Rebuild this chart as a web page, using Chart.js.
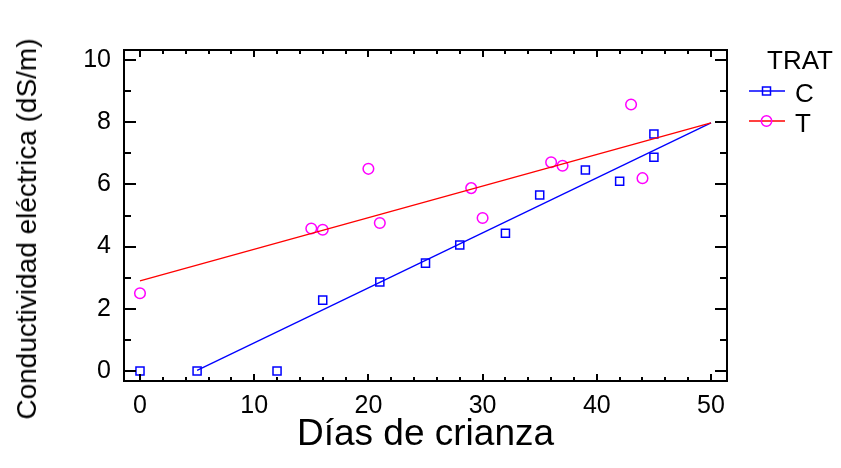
<!DOCTYPE html>
<html>
<head>
<meta charset="utf-8">
<script src="https://cdn.jsdelivr.net/npm/chart.js@4/dist/chart.umd.min.js"></script>
<style>
  body { margin: 0; background: #fff; }
  #wrap { position: relative; width: 841px; height: 468px; font-family: "Liberation Sans", Arial, sans-serif; color: #000; }
  .lbl { position: absolute; font-size: 26px; line-height: 26px; white-space: nowrap; }
  #ytitle { position: absolute; left: 27px; top: 229px; font-size: 28px; line-height: 28px; white-space: nowrap;
            transform: translate(-50%, -50%) rotate(-90deg); }
  .key { position: absolute; left: 748px; }
</style>
</head>
<body>
<div id="wrap">
  <canvas id="chart" width="841" height="468"></canvas>
  <div id="ytitle">Conductividad eléctrica (dS/m)</div>
  <div class="lbl" style="left:767px; top:47px;">TRAT</div>
  <svg class="key" style="top:84px;" width="38" height="14"><line x1="1" y1="7" x2="37" y2="7" stroke="#0000ff" stroke-width="1.3"/><rect x="14.5" y="3" width="8" height="8" fill="none" stroke="#0000ff" stroke-width="1.5"/></svg>
  <div class="lbl" style="left:795px; top:80px;">C</div>
  <svg class="key" style="top:114px;" width="38" height="14"><line x1="1" y1="7" x2="37" y2="7" stroke="#ff0000" stroke-width="1.3"/><circle cx="18.5" cy="7" r="5.2" fill="none" stroke="#ff00ff" stroke-width="1.5"/></svg>
  <div class="lbl" style="left:795px; top:110px;">T</div>
</div>
<script>
// data
const daysC = [0, 5, 12, 16, 21, 25, 28, 32, 35, 39, 42, 45, 45];
const ceC = [0, 0, 0, 2.28, 2.86, 3.47, 4.05, 4.43, 5.66, 6.46, 6.1, 7.62, 6.87];
const daysT = [0, 15, 16, 20, 21, 29, 30, 36, 37, 43, 44];
const ceT = [2.5, 4.58, 4.54, 6.5, 4.76, 5.88, 4.92, 6.71, 6.6, 8.57, 6.2];
// fitted lines (end points)
const fitCx = [5, 50];
const fitCy = [0.02, 7.98];
const fitTx = [0, 50];
const fitTy = [2.9, 7.98];
const xTicks = [0, 10, 20, 30, 40, 50];
const yTicks = [0, 2, 4, 6, 8, 10];

const pts = (xs, ys) => xs.map((x, i) => ({ x: x, y: ys[i] }));

// draws the box frame and inward ticks on all four sides
const framePlugin = {
  id: 'frame',
  afterDraw(chart) {
    const ctx = chart.ctx;
    const a = chart.chartArea;
    const xs = chart.scales.x, ys = chart.scales.y;
    ctx.save();
    ctx.strokeStyle = '#000';
    ctx.lineWidth = 2;
    ctx.strokeRect(a.left, a.top, a.right - a.left, a.bottom - a.top);
    ctx.beginPath();
    for (let v = 0; v <= 50; v += 2) {
      const px = Math.round(xs.getPixelForValue(v));
      const len = v % 10 === 0 ? 7 : 4;
      ctx.moveTo(px, a.bottom); ctx.lineTo(px, a.bottom - len);
      ctx.moveTo(px, a.top); ctx.lineTo(px, a.top + len);
    }
    for (let v = 0; v <= 10; v += 1) {
      const py = Math.round(ys.getPixelForValue(v));
      const len = v % 2 === 0 ? 12 : 7;
      ctx.moveTo(a.left, py); ctx.lineTo(a.left + len, py);
      ctx.moveTo(a.right, py); ctx.lineTo(a.right - len, py);
    }
    ctx.stroke();
    ctx.restore();
  }
};

new Chart(document.getElementById('chart'), {
  type: 'scatter',
  data: {
    datasets: [
      { label: 'fitT', data: pts(fitTx, fitTy), showLine: true, borderColor: '#ff0000', borderWidth: 1.3, pointRadius: 0 },
      { label: 'fitC', data: pts(fitCx, fitCy), showLine: true, borderColor: '#0000ff', borderWidth: 1.3, pointRadius: 0 },
      { label: 'C', data: pts(daysC, ceC), pointStyle: 'rect', pointRadius: 5.7, borderColor: '#0000ff', borderWidth: 1.5, backgroundColor: 'rgba(0,0,0,0)' },
      { label: 'T', data: pts(daysT, ceT), pointStyle: 'circle', pointRadius: 5.3, borderColor: '#ff00ff', borderWidth: 1.5, backgroundColor: 'rgba(0,0,0,0)' }
    ]
  },
  options: {
    responsive: false,
    animation: false,
    layout: { padding: { left: 0, top: 50, right: 114, bottom: 0 } },
    plugins: { legend: { display: false }, tooltip: { enabled: false } },
    scales: {
      x: {
        type: 'linear', min: -1.4, max: 51.4,
        grid: { display: false, drawTicks: false },
        border: { display: false },
        afterFit: s => { s.height = 87; },
        afterBuildTicks: s => { s.ticks = xTicks.map(v => ({ value: v })); },
        ticks: { padding: 10, color: '#000', font: { family: 'Liberation Sans', size: 25 } },
        title: { display: true, text: 'Días de crianza', color: '#000', padding: { top: 0, bottom: 11 }, font: { family: 'Liberation Sans', size: 37 } }
      },
      y: {
        type: 'linear', min: -0.32, max: 10.32,
        grid: { display: false, drawTicks: false },
        border: { display: false },
        afterFit: s => { s.width = 124; },
        afterBuildTicks: s => { s.ticks = yTicks.map(v => ({ value: v })); },
        ticks: { padding: 13, color: '#000', font: { family: 'Liberation Sans', size: 25 } }
      }
    }
  },
  plugins: [framePlugin]
});
</script>
</body>
</html>
